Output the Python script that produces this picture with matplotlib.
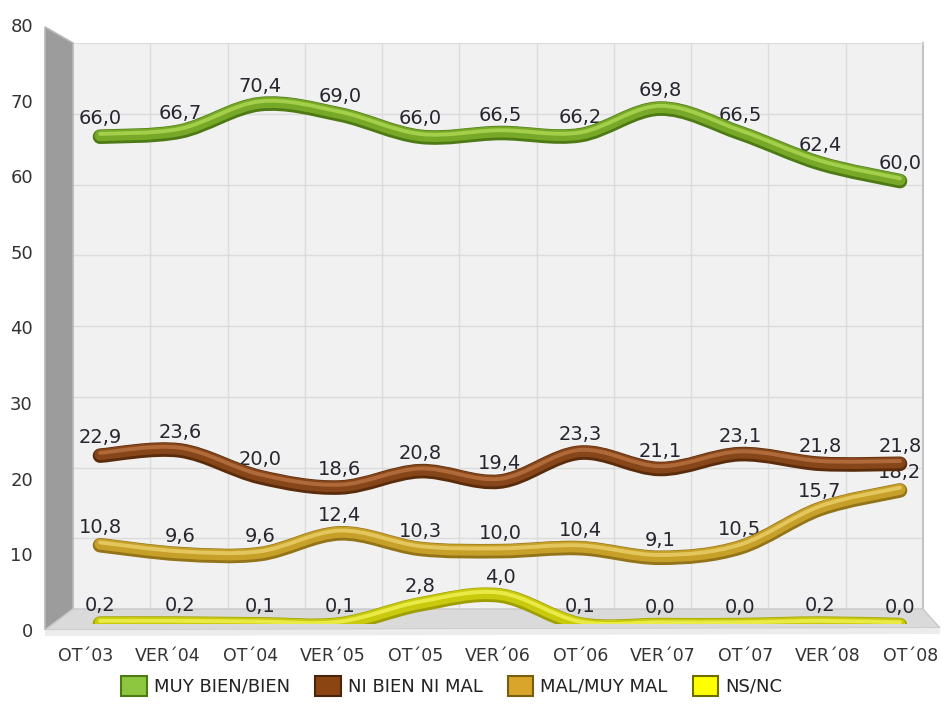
import matplotlib
matplotlib.use('Agg')
import matplotlib.pyplot as plt
import numpy as np
from matplotlib.path import Path
from matplotlib.patches import PathPatch, Polygon, Patch
import matplotlib.transforms as mtransforms

categories = ["OT´03", "VER´04", "OT´04", "VER´05", "OT´05", "VER´06",
              "OT´06", "VER´07", "OT´07", "VER´08", "OT´08"]
muy_bien = [66.0, 66.7, 70.4, 69.0, 66.0, 66.5, 66.2, 69.8, 66.5, 62.4, 60.0]
ni_bien = [22.9, 23.6, 20.0, 18.6, 20.8, 19.4, 23.3, 21.1, 23.1, 21.8, 21.8]
mal = [10.8, 9.6, 9.6, 12.4, 10.3, 10.0, 10.4, 9.1, 10.5, 15.7, 18.2]
nsnc = [0.2, 0.2, 0.1, 0.1, 2.8, 4.0, 0.1, 0.0, 0.0, 0.2, 0.0]
series_names = ["MUY BIEN/BIEN", "NI BIEN NI MAL", "MAL/MUY MAL", "NS/NC"]
y_ticks = [0, 10, 20, 30, 40, 50, 60, 70, 80]

plt.rcParams['font.family'] = ['DejaVu Sans']

W, H = 942, 725
fig = plt.figure(figsize=(W / 100, H / 100), dpi=100)
fig.patch.set_facecolor('white')


def fx(x):
    return x / W


def fy(y):
    return 1 - y / H


def rect(l, t, r, b):
    return [fx(l), fy(b), fx(r) - fx(l), fy(t) - fy(b)]


# back wall
axw = fig.add_axes(rect(73, 43, 923, 609))
axw.set_facecolor('#f1f1f1')
axw.set_xlim(0, 11)
axw.set_ylim(0, 80)
axw.set_xticks(range(1, 11))
axw.set_yticks(range(10, 80, 10))
axw.grid(True, color='#dcdcdc', lw=1)
axw.tick_params(length=0, labelbottom=False, labelleft=False)
for s in ['left', 'bottom']:
    axw.spines[s].set_visible(False)
axw.spines['top'].set_color('#dddddd')
axw.spines['right'].set_color('#c4c4c4')
axw.spines['right'].set_linewidth(1.5)
axw.set_zorder(0)

# side wall and floor
side = Polygon([(fx(45), fy(27)), (fx(73), fy(43)), (fx(73), fy(609)), (fx(45), fy(630))],
               closed=True, transform=fig.transFigure, facecolor='#9c9c9c',
               edgecolor='#b8b8b8', lw=1.2, zorder=1)
fig.add_artist(side)
floor = Polygon([(fx(45), fy(630)), (fx(73), fy(609)), (fx(923), fy(609)), (fx(940), fy(628))],
                closed=True, transform=fig.transFigure, facecolor='#dadada',
                edgecolor='#c8c8c8', lw=1, zorder=1)
fig.add_artist(floor)
lip = Polygon([(fx(45), fy(630)), (fx(940), fy(628)), (fx(940), fy(634)), (fx(45), fy(636))],
              closed=True, transform=fig.transFigure, facecolor='#ececec',
              edgecolor='none', zorder=1)
fig.add_artist(lip)

# front axes for tick labels
axf = fig.add_axes(rect(44, 25, 940, 630))
axf.set_facecolor('none')
axf.set_ylim(0, 80)
axf.set_yticks(y_ticks)
axf.set_xlim(-0.5, 10.36)
axf.set_xticks(range(len(categories)))
axf.set_xticklabels(categories)
for s in axf.spines.values():
    s.set_visible(False)
axf.tick_params(axis='y', length=0, pad=8, labelsize=13, labelcolor='#333333')
axf.tick_params(axis='x', length=0, pad=12, labelsize=12.5, labelcolor='#333333')
axf.set_zorder(2)

# line axes
axl = fig.add_axes(rect(60, 32, 940, 624))
axl.set_xlim(-0.5, 10.5)
axl.set_ylim(0, 80)
axl.axis('off')
axl.set_facecolor('none')
axl.set_zorder(5)


def smooth_path(xs, ys):
    pts = np.column_stack([xs, ys]).astype(float)
    n = len(pts)
    verts = [pts[0]]
    codes = [Path.MOVETO]
    for i in range(n - 1):
        p0 = pts[i - 1] if i > 0 else pts[i]
        p1 = pts[i]
        p2 = pts[i + 1]
        p3 = pts[i + 2] if i + 2 < n else pts[i + 1]
        c1 = p1 + (p2 - p0) / 6
        c2 = p2 - (p3 - p1) / 6
        verts += [c1, c2, p2]
        codes += [Path.CURVE4] * 3
    return Path(np.array(verts), codes)


def tube(ax, xs, ys, dark, main, light):
    path = smooth_path(xs, ys)
    for lw, c, dy in [(10.5, dark, -0.8), (8.0, main, 0.0), (2.8, light, 1.2)]:
        tr = ax.transData + mtransforms.ScaledTranslation(0, dy / 72, fig.dpi_scale_trans)
        ax.add_patch(PathPatch(path, fill=False, lw=lw, edgecolor=c,
                               capstyle='round', joinstyle='round',
                               transform=tr, zorder=4))


styles = [
    (muy_bien, '#4e7a15', '#78a828', '#a3cf4a', '#8dc63f', '#4e7a15'),
    (ni_bien, '#5a2c0c', '#87461a', '#b06a3a', '#8b4513', '#4a240a'),
    (mal, '#947418', '#c6a029', '#e4c75c', '#d9a52a', '#7a5e10'),
    (nsnc, '#9e9e00', '#c9c90e', '#eaea46', '#ffff00', '#6e6e00'),
]

xs = np.arange(len(categories))
for vals, dark, main, light, _, _ in styles:
    tube(axl, xs, vals, dark, main, light)
    for i, v in enumerate(vals):
        axl.annotate(f"{v:.1f}".replace('.', ','), (i, v), xytext=(0, 8),
                     textcoords='offset points', ha='center', va='baseline',
                     fontsize=14, color='#262630', zorder=3)

handles = [Patch(facecolor=s[4], edgecolor=s[5], lw=1.5) for s in styles]
fig.legend(handles, series_names, loc='center', bbox_to_anchor=(fx(452), fy(686)),
           ncol=4, frameon=False, fontsize=13, handlelength=1.4, handleheight=1.3,
           columnspacing=1.4, handletextpad=0.4, labelcolor='#222222')

fig.savefig('out.png', dpi=100, facecolor='white')
